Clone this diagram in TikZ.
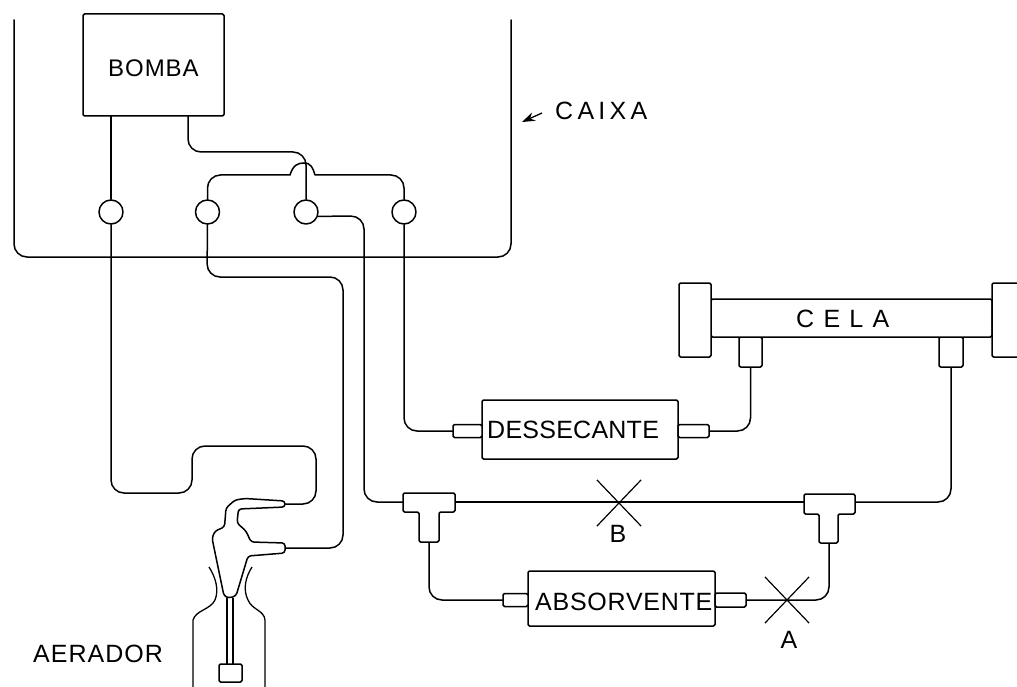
\documentclass[tikz,border=0pt]{standalone}
\usepackage{fontspec}
\setmainfont{Liberation Sans}
\usetikzlibrary{shapes.misc,arrows.meta}
\newcommand{\spaced}[1]{\addfontfeature{LetterSpace=#1}}
\tikzset{
  pipe/.style={line width=1.5pt,rounded corners=13pt,line cap=round},
  part/.style={line width=1.5pt,rounded corners=1.5pt,line join=round,draw,fill=white},
  valve/.style={part,rounded corners=0pt,circle,minimum size=24pt,inner sep=0pt},
  boxnode/.style={part,rectangle,inner sep=0pt},
  stopx/.style={cross out,draw,line width=1.2pt,inner sep=0pt,minimum width=43pt,minimum height=45pt},
  lab/.style={anchor=base west,inner sep=0pt,font=\fontsize{25}{25}\selectfont},
  clab/.style={lab,anchor=base},
}
\begin{document}
\begin{tikzpicture}[x=1pt,y=-1pt]
\useasboundingbox (0,0) rectangle (1017,687);
% Caixa
\draw[pipe] (14,20) -- (14,257) -- (511,257) -- (511,20);
% Named ends
\coordinate (bo1) at (111,116);
\coordinate (bo2) at (188,116);
\coordinate (jog) at (250,152);
\coordinate (hopL) at (290,175);
\coordinate (hopR) at (315,175);
\coordinate (airA) at (285,504);
\coordinate (airB) at (285,548);
\coordinate (tLw) at (403,502);
\coordinate (tLe) at (455,502);
\coordinate (tLs) at (429,542);
\coordinate (tRw) at (804,502);
\coordinate (tRe) at (855,502);
\coordinate (tRs) at (829,543);
% Pipes
\node[valve] (c1) at (111,212) {};
\node[valve] (c2) at (207.5,212) {};
\node[valve] (c3) at (306,212) {};
\node[valve] (c4) at (404,212) {};
\node[boxnode,minimum width=141pt,minimum height=102pt] (bomba) at (153.5,65) {};
\node[boxnode,minimum width=196pt,minimum height=59pt] (dess) at (580,429.5) {};
\node[boxnode,minimum width=187pt,minimum height=55pt] (abs) at (621.5,598.5) {};
\node[boxnode,minimum width=29pt,minimum height=13pt] (fd1) at (467.5,431) {};
\node[boxnode,minimum width=31pt,minimum height=13pt] (fd2) at (693.5,431) {};
\node[boxnode,minimum width=25pt,minimum height=13pt] (fa1) at (515.5,600) {};
\node[boxnode,minimum width=31pt,minimum height=14pt] (fa2) at (730.5,600) {};
\node[boxnode,minimum width=23pt,minimum height=30pt] (cf1) at (750.5,352) {};
\node[boxnode,minimum width=24pt,minimum height=30pt] (cf2) at (951,352) {};
\node[boxnode,minimum width=281pt,minimum height=38pt] (cela) at (851.5,318) {};
\node[boxnode,minimum width=32pt,minimum height=74pt] (capL) at (695,320) {};
\draw[part] (1017,283) -- (992,283) -- (992,357) -- (1017,357);

\draw[pipe] (bo1) -- (c1.north);
\draw[pipe] (c1.south) -- (111,493) -- (192,493) -- (192,446) -- (316,446) -- (316,504) -- (airA);
\draw[pipe] (bo2) |- (jog) -| (c3.north);
\draw[pipe] (c2.north) |- (hopL);
\draw[pipe] (hopR) -| (c4.north);
\draw[line width=1.5pt] (hopL) .. controls (293,165) and (298,163) .. (304,163) .. controls (311,163) and (313,168) .. (hopR);
\draw[pipe] (c2.south) -- (207,277) -- (343,277) -- (343,548) -- (airB);
\draw[pipe] (c3.-20) -- (364,216) -- (364,502) -- (tLw);
\draw[pipe] (c4.south) |- (fd1.west);
\draw[pipe] (fd2.east) -| (cf1.south);
\draw[pipe] (tLe) -- (tRw);
\draw[pipe] (tRe) -| (cf2.south);
\draw[pipe] (tLs) |- (fa1.west);
\draw[pipe] (fa2.east) -| (tRs);

% T pieces
\draw[part] (tLw |- 0,493) -- (455,493) -- (455,512) -- (439,512) -- (439,542) -- (419,542) -- (419,512) -- (403,512) -- cycle;
\draw[part] (tRw |- 0,494) -- (855,494) -- (855,514) -- (838,514) -- (838,543) -- (819,543) -- (819,514) -- (804,514) -- cycle;

% Stop marks
\node[stopx] (xB) at (619,503) {};
\node[stopx] (xA) at (787,600) {};

% Aerador
\draw[line width=1.5pt,rounded corners=3pt,line join=round,fill=white]
  (285,501) -- (245,498.5) -- (235,500) -- (226,508) -- (224.5,527) -- (215,531) -- (212,538)
  -- (224,596) -- (229,598) -- (236,596) -- (248,556) -- (285,553) -- (285,543) -- (251,542)
  -- (246,531) -- (237,523) -- (238.5,509) -- (285,507) -- cycle;
\draw[line width=1.3pt] (227,598) -- (227,664) (233,598) -- (233,664);
\node[boxnode,minimum width=23pt,minimum height=18pt] (filtro) at (230.5,673) {};
\draw[line width=1.3pt] (209,567) .. controls (216,578) and (219,590) .. (215,600) .. controls (210,610) and (196,610) .. (193,620) -- (193,687);
\draw[line width=1.3pt] (252,567) .. controls (245,578) and (243,590) .. (248,600) .. controls (252,610) and (264,610) .. (265,620) -- (265,687);

% Labels
\node[lab,font=\fontsize{24}{24}\selectfont\spaced{4}] (tbomba) at (108,77) {BOMBA};
\node[lab,font=\fontsize{25}{25}\selectfont\spaced{17}] (tcaixa) at (555,120) {CAIXA};
\node[lab,font=\fontsize{25}{25}\selectfont\spaced{37}] (tcela) at (796,327) {CELA};
\node[lab,font=\fontsize{25}{25}\selectfont\spaced{1}] (tdess) at (487,438.5) {DESSECANTE};
\node[lab,font=\fontsize{25}{25}\selectfont\spaced{3}] (tabs) at (535,610) {ABSORVENTE};
\node[lab,font=\fontsize{25}{25}\selectfont\spaced{4}] (taer) at (33,662) {AERADOR};
\node[clab] (tB) at (618,542) {B};
\node[clab] (tA) at (789,648) {A};
% Caixa pointer
\coordinate (ptail) at (542,113);
\coordinate (ptip) at (522,122);
\draw[line width=1.3pt,-{Stealth[length=13pt,width=9pt]}] (ptail) -- (ptip);
\end{tikzpicture}
\end{document}
